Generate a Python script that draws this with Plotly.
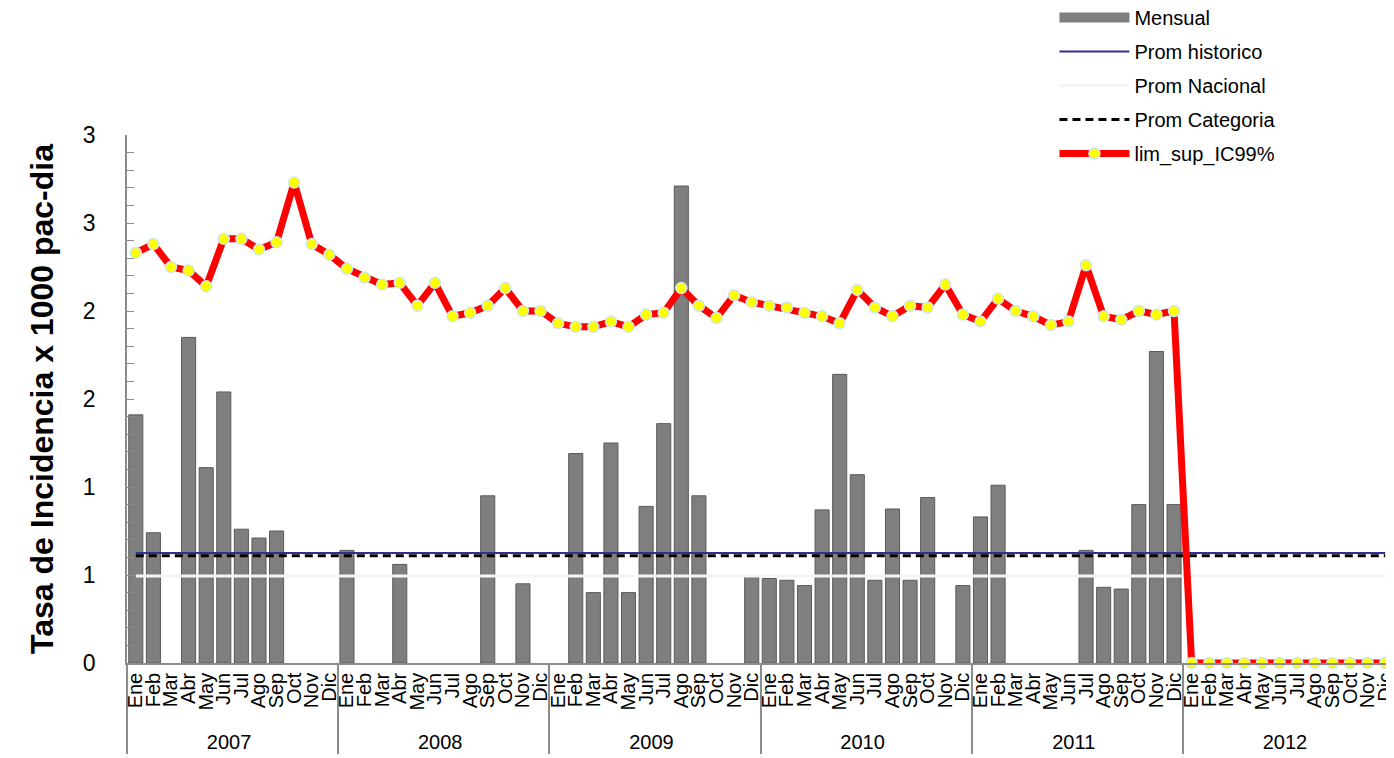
import plotly.graph_objects as go

years = ["2007", "2008", "2009", "2010", "2011", "2012"]
months = ["Ene", "Feb", "Mar", "Abr", "May", "Jun", "Jul", "Ago", "Sep", "Oct", "Nov", "Dic"]

mensual = [
    1.41, 0.74, 0, 1.85, 1.11, 1.54, 0.76, 0.71, 0.75, 0, 0, 0,          # 2007
    0.64, 0, 0, 0.56, 0, 0, 0, 0, 0.95, 0, 0.45, 0,                       # 2008
    0, 1.19, 0.40, 1.25, 0.40, 0.89, 1.36, 2.71, 0.95, 0, 0, 0.49,        # 2009
    0.48, 0.47, 0.44, 0.87, 1.64, 1.07, 0.47, 0.875, 0.47, 0.94, 0, 0.44, # 2010
    0.83, 1.01, 0, 0, 0, 0, 0.64, 0.43, 0.42, 0.90, 1.77, 0.90,           # 2011
    0, 0, 0, 0, 0, 0, 0, 0, 0, 0, 0, 0,                                   # 2012
]

lim_sup_ic99 = [
    2.33, 2.38, 2.25, 2.23, 2.14, 2.41, 2.41, 2.35, 2.39, 2.73, 2.38, 2.32,
    2.24, 2.19, 2.15, 2.16, 2.03, 2.16, 1.97, 1.99, 2.03, 2.13, 2.00, 2.00,
    1.93, 1.91, 1.91, 1.94, 1.91, 1.98, 1.99, 2.13, 2.03, 1.96, 2.09, 2.05,
    2.03, 2.02, 1.99, 1.97, 1.93, 2.12, 2.02, 1.97, 2.03, 2.02, 2.15, 1.98,
    1.94, 2.07, 2.00, 1.97, 1.92, 1.94, 2.26, 1.97, 1.95, 2.00, 1.98, 2.00,
    0, 0, 0, 0, 0, 0, 0, 0, 0, 0, 0, 0,
]

prom_historico = 0.625
prom_nacional = 0.495
prom_categoria = 0.61

ytick_vals = [0, 0.5, 1, 1.5, 2, 2.5, 3]
ytick_text = ["0", "1", "1", "2", "2", "3", "3"]

x_year = [y for y in years for _ in months]
x_month = [m for _ in years for m in months]
x = [x_year, x_month]
n = len(x_month)

# empty months are not drawn as bars
bar_y = [v if v else None for v in mensual]

FONT = "Liberation Sans, Arial, sans-serif"
BAR_COLOR = "#7f7f7f"

fig = go.Figure()
fig.add_trace(go.Bar(
    x=x, y=bar_y, name="Mensual", legendgroup="g1", showlegend=False,
    marker=dict(color=BAR_COLOR, line=dict(color="#5a5a5a", width=1)),
))
# legend entry for the bars (wide swatch as in the original)
fig.add_trace(go.Scatter(
    x=[None], y=[None], name="Mensual", mode="lines", legendgroup="g1",
    line=dict(color=BAR_COLOR, width=11),
))
fig.add_trace(go.Scatter(
    x=x, y=[prom_historico] * n, name="Prom historico", mode="lines", legendgroup="g2",
    line=dict(color="#2e3192", width=2),
))
fig.add_trace(go.Scatter(
    x=x, y=[prom_nacional] * n, name="Prom Nacional", mode="lines", legendgroup="g3",
    line=dict(color="#f4f4f4", width=3),
))
fig.add_trace(go.Scatter(
    x=x, y=[prom_categoria] * n, name="Prom Categoria", mode="lines", legendgroup="g4",
    line=dict(color="#000000", width=3, dash="8px,5px"),
))
fig.add_trace(go.Scatter(
    x=x, y=lim_sup_ic99, name="lim_sup_IC99%", mode="lines+markers", legendgroup="g5",
    line=dict(color="#ff0000", width=7),
    marker=dict(color="#ffff00", size=11, line=dict(color="#cfe6ee", width=1.5)),
    cliponaxis=False,
))

fig.update_layout(
    width=1386, height=750,
    margin=dict(l=119, r=0, t=127, b=95, autoexpand=False),
    paper_bgcolor="white", plot_bgcolor="white",
    font=dict(family=FONT, color="#000000", size=20),
    bargap=0.2,
    showlegend=True,
    legend=dict(
        x=0.732, y=1.2595, xanchor="left", yanchor="top",
        bgcolor="rgba(0,0,0,0)", font=dict(size=20, family=FONT),
        itemwidth=70, tracegroupgap=5,
    ),
    xaxis=dict(
        type="multicategory",
        range=[-0.5, n - 0.5], autorange=False,
        tickmode="linear", tick0=0, dtick=1,
        showline=True, linecolor="#8c8c8c", linewidth=1.5,
        ticks="", tickangle=-90,
        tickfont=dict(size=20, family=FONT),
        showdividers=True, dividercolor="#8c8c8c", dividerwidth=1.5,
        showgrid=False, zeroline=False,
    ),
    yaxis=dict(
        range=[0, 3], autorange=False,
        tickvals=ytick_vals, ticktext=ytick_text,
        tickfont=dict(size=23, family=FONT),
        ticklabelstandoff=25,
        showline=True, linecolor="#8c8c8c", linewidth=1.5,
        ticks="inside", ticklen=7, tickcolor="#8c8c8c",
        minor=dict(dtick=0.1, ticks="inside", ticklen=7, tickcolor="#8c8c8c", showgrid=False),
        showgrid=False, zeroline=False,
        title=dict(text="<b>Tasa de Incidencia x 1000 pac-dia</b>",
                   font=dict(size=32, family=FONT), standoff=20),
    ),
)

fig.write_html("out.html")
